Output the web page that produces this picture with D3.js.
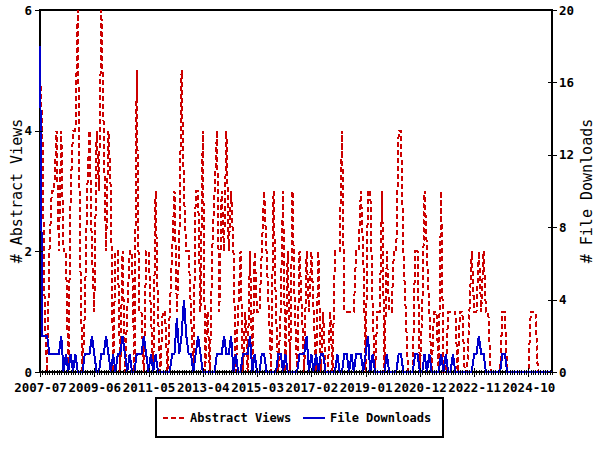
<!DOCTYPE html>
<html><head><meta charset="utf-8">
<script src="https://cdn.jsdelivr.net/npm/d3@7"></script>
<style>body{margin:0;background:#fff} svg{display:block}</style>
</head><body>
<svg id="c" width="600" height="450"></svg>
<script>
// ---- data ----
const firstMonth = "2007-07";
const tickLabels = ["2007-07","2009-06","2011-05","2013-04","2015-03","2017-02","2019-01","2020-12","2022-11","2024-10"];
const seriesNames = ["Abstract Views", "File Downloads"];
const leftTicks = [0, 2, 4, 6];
const rightTicks = [0, 4, 8, 12, 16, 20];
const views = [
  5,4,1,0,2,3,3,4,2,4,
  2,2,0,3,4,4,6,2,0,1,
  3,4,2,1,4,3,6,4,2,4,
  3,0,2,2,0,2,0,1,2,2,
  0,5,1,1,0,2,2,1,0,3,
  1,0,1,1,0,1,2,3,1,2,
  5,3,2,2,1,0,3,3,1,4,
  0,1,0,2,3,4,1,3,2,4,
  2,3,2,0,1,2,0,1,0,2,
  0,2,1,1,2,3,2,1,0,3,
  1,0,1,3,0,2,0,3,1,0,
  2,1,0,2,1,2,1,0,2,0,
  1,0,0,1,0,2,2,2,4,1,
  1,1,1,1,2,2,3,2,0,3,
  3,1,0,1,1,3,0,2,1,1,
  2,2,4,4,2,1,0,0,0,2,
  2,0,1,3,2,1,0,1,1,0,
  3,0,0,1,1,1,1,0,1,1,
  0,0,1,2,1,1,2,1,2,1,
  1,0,0,0,0,0,1,1,0,0,
  0,0,0,0,0,0,0,0,1,1,
  1,0,0,0,0,0,0,0
];
const downloads = [
  18,2,2,2,1,1,1,1,1,2,
  0,1,0,1,0,1,0,0,0,1,
  1,1,2,1,0,0,1,1,2,1,
  0,1,0,1,1,2,1,0,1,0,
  0,1,1,1,2,1,0,1,0,1,
  0,0,0,0,0,0,1,1,3,1,
  2,4,2,1,1,0,1,2,1,0,
  0,0,0,0,0,1,1,1,2,1,
  1,2,0,1,0,0,1,1,1,2,
  0,1,0,0,1,1,0,0,0,0,
  0,1,1,0,1,0,0,0,0,0,
  1,1,1,2,0,1,0,1,0,1,
  1,0,0,0,0,0,1,0,0,1,
  1,0,1,0,1,1,1,0,1,2,
  0,1,0,0,0,0,0,1,0,0,
  0,0,1,1,0,0,0,0,0,1,
  1,0,0,1,0,1,0,0,0,0,
  1,0,1,0,0,1,0,0,0,0,
  0,0,0,0,1,1,2,1,1,0,
  0,0,0,0,0,0,1,1,0,0,
  0,0,0,0,0,0,0,0,0,0,
  0,0,0,0,0,0,0,0
];

// ---- layout ----
const L = 40, R = 552, T = 10, B = 372;
const RED = "#cc0000", BLUE = "#0000cc";
const FONT = "'DejaVu Sans Mono', 'Liberation Mono', monospace";
const svg = d3.select("#c");
const n = views.length;

const monthIndex = s => {
  const [y, m] = s.split("-").map(Number);
  const [y0, m0] = firstMonth.split("-").map(Number);
  return (y - y0) * 12 + (m - m0);
};

const x = d3.scaleLinear().domain([0, n - 1]).range([L, R]);
const yL = d3.scaleLinear().domain([0, 6]).range([B, T]);
const yR = d3.scaleLinear().domain([0, 20]).range([B, T]);

// frame
svg.append("rect").attr("x", L).attr("y", T).attr("width", R - L).attr("height", B - T)
  .attr("fill", "none").attr("stroke", "#000").attr("stroke-width", 1.5)
  .attr("shape-rendering", "crispEdges");

// lines
const lineV = d3.line().x((d, i) => x(i)).y(d => yL(d));
const lineD = d3.line().x((d, i) => x(i)).y(d => yR(d));

svg.append("path").datum(views).attr("d", lineV)
  .attr("fill", "none").attr("stroke", RED).attr("stroke-width", 2)
  .attr("stroke-dasharray", "5,3").attr("shape-rendering", "crispEdges");
svg.append("path").datum(downloads).attr("d", lineD)
  .attr("fill", "none").attr("stroke", BLUE).attr("stroke-width", 2)
  .attr("shape-rendering", "crispEdges");

// left axis
const gl = svg.append("g").attr("transform", `translate(${L},0)`)
  .call(d3.axisLeft(yL).tickValues(leftTicks).tickFormat(d3.format("d")).tickSizeOuter(0).tickSizeInner(5).tickPadding(3));
gl.select(".domain").remove();
gl.selectAll(".tick line").attr("x1", 3).attr("x2", -5);
// right axis
const gr = svg.append("g").attr("transform", `translate(${R},0)`)
  .call(d3.axisRight(yR).tickValues(rightTicks).tickFormat(d3.format("d")).tickSizeOuter(0).tickSizeInner(5).tickPadding(2));
gr.select(".domain").remove();
gr.selectAll(".tick line").attr("x1", -4).attr("x2", 5);
// bottom minor ticks
const gm = svg.append("g").attr("transform", `translate(0,${B})`)
  .call(d3.axisBottom(x).tickValues(d3.range(n)).tickFormat("").tickSizeOuter(0).tickSizeInner(3));
gm.select(".domain").remove();
gm.selectAll(".tick line").attr("y1", -2).attr("y2", 3);
// bottom major ticks with labels
const gb = svg.append("g").attr("transform", `translate(0,${B})`)
  .call(d3.axisBottom(x).tickValues(tickLabels.map(monthIndex))
    .tickFormat((d, i) => tickLabels[i]).tickSizeOuter(0).tickSizeInner(5).tickPadding(6));
gb.select(".domain").remove();
gb.selectAll(".tick line").attr("y1", -4).attr("y2", 5);

svg.selectAll(".tick line").attr("stroke", "#000").attr("shape-rendering", "crispEdges");
svg.selectAll(".tick text").attr("fill", "#000")
  .style("font-family", FONT).style("font-weight", "bold").style("font-size", "12.5px");

// axis titles
svg.append("text").attr("transform", `translate(22,${(T + B) / 2}) rotate(-90)`)
  .attr("text-anchor", "middle").style("font-family", FONT).style("font-size", "15px")
  .text("# " + seriesNames[0]);
svg.append("text").attr("transform", `translate(592,${(T + B) / 2}) rotate(-90)`)
  .attr("text-anchor", "middle").style("font-family", FONT).style("font-size", "15px")
  .text("# " + seriesNames[1]);

// legend
const lg = svg.append("g");
lg.append("rect").attr("x", 156).attr("y", 398).attr("width", 287).attr("height", 39)
  .attr("fill", "#fff").attr("stroke", "#000").attr("stroke-width", 1.2).attr("shape-rendering", "crispEdges");
lg.append("line").attr("x1", 163).attr("x2", 184).attr("y1", 418).attr("y2", 418)
  .attr("stroke", RED).attr("stroke-width", 2).attr("stroke-dasharray", "5,3").attr("shape-rendering", "crispEdges");
lg.append("text").attr("x", 190).attr("y", 422).style("font-family", FONT).style("font-weight", "bold")
  .style("font-size", "12px").text(seriesNames[0]);
lg.append("line").attr("x1", 303).attr("x2", 325).attr("y1", 418).attr("y2", 418)
  .attr("stroke", BLUE).attr("stroke-width", 2).attr("shape-rendering", "crispEdges");
lg.append("text").attr("x", 330).attr("y", 422).style("font-family", FONT).style("font-weight", "bold")
  .style("font-size", "12px").text(seriesNames[1]);
</script>
</body></html>
